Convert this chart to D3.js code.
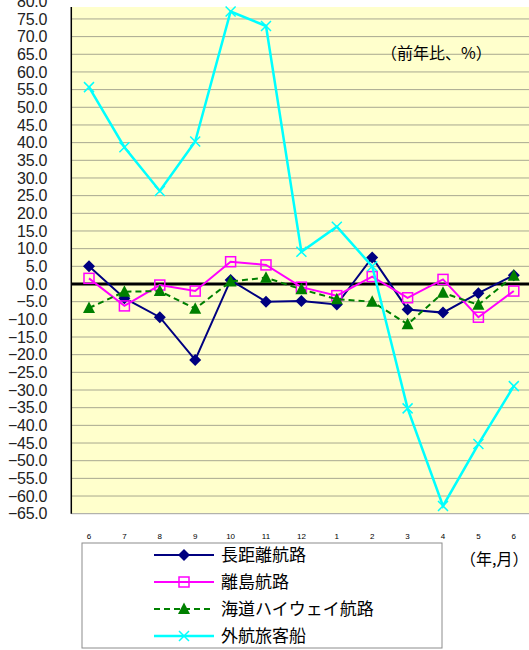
<!DOCTYPE html>
<html><head><meta charset="utf-8">
<script src="https://cdn.jsdelivr.net/npm/d3@7"></script>
<style>body{margin:0;background:#fff}svg{display:block}</style>
</head><body>
<svg id="c" width="529" height="650"></svg>
<script>
const monthLabels = ["6","7","8","9","10","11","12","1","2","3","4","5","6"];
const seriesNames = ["長距離航路","離島航路","海道ハイウェイ航路","外航旅客船"];
const longDistance = [5.0,-4.0,-9.4,-21.5,1.1,-5.0,-4.8,-5.8,7.5,-7.2,-8.1,-2.6,2.5];
const island = [1.6,-6.2,-0.3,-2.0,6.3,5.4,-0.9,-3.3,2.1,-3.9,1.3,-9.4,-2.0];
const seaHighway = [-6.8,-2.2,-2.0,-7.0,0.7,1.8,-1.5,-4.3,-5.0,-11.4,-2.5,-5.9,2.3];
const international = [55.7,38.7,26.3,40.3,77.1,73.0,9.1,16.2,5.0,-35.2,-62.8,-45.3,-28.9];
const yTicks = d3.range(-65, 80.1, 5);

const svg = d3.select("#c");
const L = 71.3, R = 531.5, T = 7, B = 513.7;
const x = d3.scalePoint().domain(d3.range(monthLabels.length)).range([L, R]).padding(0.5);
const y = d3.scaleLinear().domain([-65, 80]).range([B, B - 145 * 17.67 / 5]);

svg.append("rect").attr("x", L).attr("y", T).attr("width", R - L).attr("height", B - T).attr("fill", "#FFFFCC");
// gridlines
svg.append("g").selectAll("line").data(yTicks.filter(v => y(v) > T && v !== 0 && v !== -65)).join("line")
  .attr("x1", L).attr("x2", R).attr("y1", d => y(d)).attr("y2", d => y(d))
  .attr("stroke", "#a8a890").attr("stroke-width", 1);
// bottom border
svg.append("line").attr("x1", L).attr("x2", R).attr("y1", B).attr("y2", B).attr("stroke", "#a0a0a0").attr("stroke-width", 1);
// zero line
svg.append("line").attr("x1", L).attr("x2", R).attr("y1", y(0)).attr("y2", y(0)).attr("stroke", "#000").attr("stroke-width", 3);
// y axis line
svg.append("line").attr("x1", L).attr("x2", L).attr("y1", T).attr("y2", B).attr("stroke", "#000").attr("stroke-width", 1.5);

// y tick labels
const fmt = d3.format(".1f");
svg.append("g").selectAll("text").data(yTicks).join("text")
  .attr("x", 47).attr("y", d => y(d)).attr("dy", "0.36em")
  .attr("text-anchor", "end").attr("font-family", "Liberation Sans, Arial, sans-serif")
  .attr("font-size", 16).attr("letter-spacing", -0.3).attr("fill", "#222").text(d => fmt(d));

// x tick labels
svg.append("g").selectAll("text").data(monthLabels).join("text")
  .attr("x", (d, i) => x(i)).attr("y", 539).attr("text-anchor", "middle")
  .attr("font-family", "Liberation Sans, Arial, sans-serif").attr("font-size", 8).attr("fill", "#000").text(d => d);

const styles = [
  {data: longDistance, color: "#000080", dash: null, marker: "diamond", w: 2},
  {data: island, color: "#FF00FF", dash: null, marker: "square", w: 2},
  {data: seaHighway, color: "#008000", dash: "6,4", marker: "triangle", w: 2},
  {data: international, color: "#00FFFF", dash: null, marker: "cross", w: 2.5}
];

function drawMarker(g, type, cx, cy, color) {
  if (type === "diamond") {
    g.append("path").attr("d", `M${cx},${cy-6}L${cx+6},${cy}L${cx},${cy+6}L${cx-6},${cy}Z`).attr("fill", color);
  } else if (type === "square") {
    g.append("rect").attr("x", cx - 5).attr("y", cy - 5).attr("width", 10).attr("height", 10)
      .attr("fill", "none").attr("stroke", color).attr("stroke-width", 1.5);
  } else if (type === "triangle") {
    g.append("path").attr("d", `M${cx},${cy-6.5}L${cx+6},${cy+5}L${cx-6},${cy+5}Z`).attr("fill", color);
  } else {
    g.append("path").attr("d", `M${cx-5},${cy-5}L${cx+5},${cy+5}M${cx-5},${cy+5}L${cx+5},${cy-5}`)
      .attr("stroke", color).attr("stroke-width", 1.5).attr("fill", "none");
  }
}

const line = d3.line().x((d, i) => x(i)).y(d => y(d));
const plot = svg.append("g");
styles.forEach(s => {
  plot.append("path").datum(s.data).attr("d", line).attr("fill", "none")
    .attr("stroke", s.color).attr("stroke-width", s.w).attr("stroke-dasharray", s.dash);
  const mg = plot.append("g");
  s.data.forEach((v, i) => drawMarker(mg, s.marker, x(i), y(v), s.color));
});

// unit label
svg.append("text").attr("x", 381).attr("y", 59).attr("font-family", "Noto Sans CJK JP, sans-serif")
  .attr("font-size", 16).attr("fill", "#000").text("（前年比、%）");
svg.append("text").attr("x", 460).attr("y", 565).attr("font-family", "Noto Sans CJK JP, sans-serif")
  .attr("font-size", 16).attr("fill", "#000").text("（年,月）");

// legend
const lg = svg.append("g");
lg.append("rect").attr("x", 82).attr("y", 543).attr("width", 360).attr("height", 105)
  .attr("fill", "#fff").attr("stroke", "#8c8c8c").attr("stroke-width", 1);
const rowY = [555, 582, 609, 636];
styles.forEach((s, i) => {
  const yy = rowY[i];
  lg.append("line").attr("x1", 154).attr("x2", 214).attr("y1", yy).attr("y2", yy)
    .attr("stroke", s.color).attr("stroke-width", s.w).attr("stroke-dasharray", s.dash);
  drawMarker(lg, s.marker, 184, yy, s.color);
  lg.append("text").attr("x", 221).attr("y", yy).attr("dy", "0.36em")
    .attr("font-family", "Noto Sans CJK JP, sans-serif").attr("font-size", 17).attr("fill", "#000").text(seriesNames[i]);
});
</script>
</body></html>
